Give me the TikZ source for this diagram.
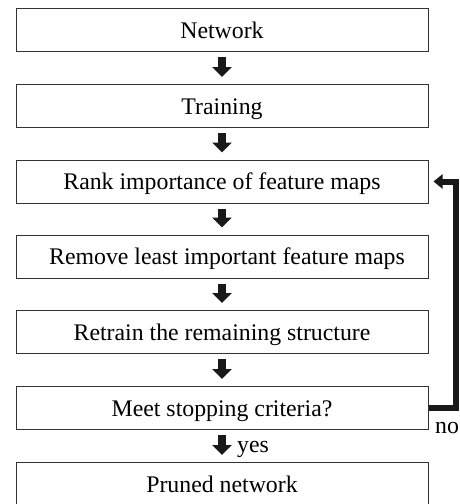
\documentclass[tikz,border=0pt]{standalone}
\usepackage{fontspec}
\setmainfont{Liberation Serif}
\usetikzlibrary{arrows.meta}
\begin{document}
\begin{tikzpicture}[x=1pt,y=-1pt,
  stepbox/.style={draw=black!80, line width=1pt, fill=white, minimum width=412pt,
    minimum height=43pt, inner sep=0pt, text height=16.5pt, text depth=0pt,
    font=\fontsize{23.8}{28}\selectfont},
  downarrow/.style={draw=black!90, line width=7.5pt,
    -{Triangle[width=19pt,length=10pt]}, shorten <=5pt, shorten >=7pt},
  looparrow/.style={draw=black!90, line width=6pt, line join=miter,
    -{Triangle[width=14pt,length=9pt]}, shorten >=5pt},
  lbl/.style={inner sep=0pt, anchor=base west, font=\fontsize{23.8}{28}\selectfont}]
\useasboundingbox (0,0) rectangle (459,504);
\node[stepbox] (n1) at (222,30) {Network};
\node[stepbox] (n2) at (222,106) {Training};
\node[stepbox] (n3) at (222,181.5) {Rank importance of feature maps};
\node[stepbox] (n4) at (222,256.5) {\hspace*{10pt}Remove least important feature maps};
\node[stepbox] (n5) at (222,332) {Retrain the remaining structure};
\node[stepbox] (n6) at (222,408) {Meet stopping criteria?};
\node[stepbox] (n7) at (222,484) {Pruned network};
\draw[downarrow] (n1) -- (n2);
\draw[downarrow] (n2) -- (n3);
\draw[downarrow] (n3) -- (n4);
\draw[downarrow] (n4) -- (n5);
\draw[downarrow] (n5) -- (n6);
\draw[downarrow] (n6) -- (n7);
\coordinate (c1) at (456,408);
\draw[looparrow] (n6.east) -- (c1) |- (n3.east);
\node[lbl] (yes) at (237,452) {yes};
\node[lbl] (no) at (435,433) {no};
\end{tikzpicture}
\end{document}
